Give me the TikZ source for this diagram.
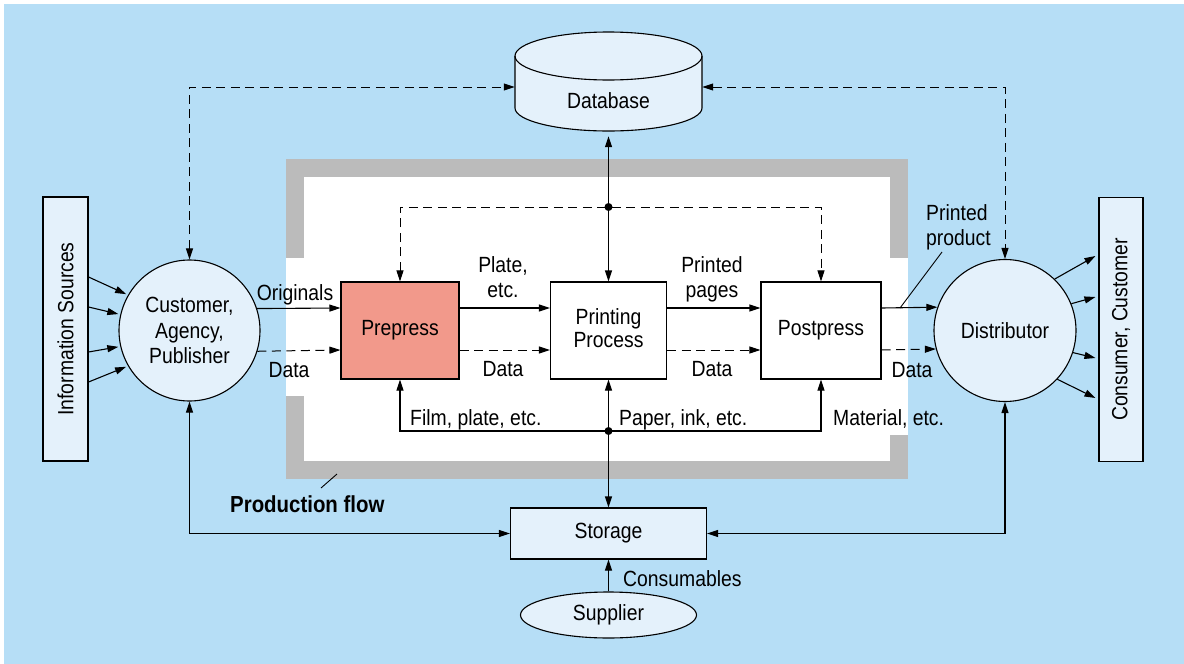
\documentclass[tikz,border=0pt]{standalone}
\usepackage{fontspec}
\setmainfont{Liberation Sans}[FakeStretch=0.88]
\usetikzlibrary{arrows.meta,calc,shapes.geometric}
\definecolor{bgblue}{RGB}{182,222,246}
\definecolor{paleblue}{RGB}{228,241,251}
\definecolor{framegray}{RGB}{187,187,187}
\definecolor{salmon}{RGB}{242,153,139}
\begin{document}
\begin{tikzpicture}[x=1pt,y=-1pt,
  every node/.style={font=\fontsize{22}{25}\selectfont},
  >={Triangle[length=11pt,width=7pt]},
  conn/.style={line width=1.1pt},
  dsh/.style={line width=1pt, dash pattern=on 9pt off 5.5pt},
  box/.style={draw, line width=1.1pt, inner sep=0, align=center},
  procbox/.style={box, fill=white, minimum width=118, minimum height=97},
  sidebox/.style={box, fill=paleblue, minimum width=45, minimum height=264},
  roundnode/.style={box, circle, fill=paleblue, minimum size=141},
  lbl/.style={inner sep=0},
  leader/.style={line width=0.9pt},
]
\useasboundingbox (0,0) rectangle (1184,664);
% background and production frame
\fill[bgblue] (4,4) rectangle (1184,664);
\fill[framegray] (286,159) rectangle (908,479);
\fill[white] (304,177) rectangle (890,461);
\fill[white] (286,258) rectangle (304,396);
\fill[white] (890,258) rectangle (908,435);

% database cylinder
\filldraw[fill=paleblue, line width=1.1pt] (515,56) -- (515,108)
  arc[start angle=180,end angle=360,x radius=93.5pt,y radius=23pt] -- (702,56)
  arc[start angle=0,end angle=180,x radius=93.5pt,y radius=24pt] -- cycle;
\draw[line width=1.1pt] (515,56) arc[start angle=180,end angle=360,x radius=93.5pt,y radius=24pt];
\node[inner sep=0, minimum width=187, minimum height=88] (db) at (608.5,87) {};
\node (dblabel) at (608.5,101) {Database};

% main nodes
\node[sidebox] (info) at (65.5,329) {\rotatebox{90}{Information Sources}};
\node[sidebox, minimum width=44] (cons) at (1121,329.5) {\rotatebox{90}{Consumer, Customer}};
\node[roundnode, font=\fontsize{22}{25.5}\selectfont] (cust) at (189.5,330.5) {Customer,\\Agency,\\Publisher};
\node[roundnode, minimum size=142] (dist) at (1005,330.5) {Distributor};
\node[procbox, fill=salmon] (prep) at (400,330.5) {Prepress};
\node[procbox, minimum width=116, font=\fontsize{22}{23.5}\selectfont] (print) at (608.5,330.5) {Printing\\Process\vphantom{g}};
\node[procbox, minimum width=120] (post) at (821,330.5) {Postpress};
\node[box, fill=paleblue, minimum width=196, minimum height=51] (store) at (608.5,533.5) {Storage};
\node[box, ellipse, fill=paleblue, minimum width=176, minimum height=46] (sup) at (608.5,615) {Supplier};

\coordinate (rowA) at (0,308);
\coordinate (rowB) at (0,350);
\coordinate (jt) at (608.5,207);
\coordinate (jb) at (608.5,431);

% production line
\draw[conn,->] (cust.18.6) -- (prep.west |- rowA);
\draw[dsh,->] (cust.343.9) -- (prep.west |- rowB);
\draw[conn,->] (prep.east |- rowA) -- (print.west |- rowA);
\draw[dsh,->] (prep.east |- rowB) -- (print.west |- rowB);
\draw[conn,->] (print.east |- rowA) -- (post.west |- rowA);
\draw[dsh,->] (print.east |- rowB) -- (post.west |- rowB);
\draw[conn,->] (post.east |- rowA) -- (dist.161.5);
\draw[dsh,->] (post.east |- rowB) -- (dist.195.9);

% sources and consumers
\foreach \dy/\a in {-52/150, -22/167, 23/193, 53/210}
  \draw[conn,->,shorten >=2pt] ($(info.east)+(0,\dy)$) -- (cust.\a);
\foreach \a/\dy in {46/-73.5, 22/-32.5, 342.5/28.5, 317/68.5}
  \draw[conn,->] (dist.\a) -- ($(cons.west)+(-3,\dy)$);

% database links
\draw[dsh,<->] (cust.north) |- (db.west);
\draw[dsh,<->] (db.east) -| (dist.north);
\draw[conn,<->,shorten <=5pt] (db.south) -- (print.north);
\draw[dsh,<->] (prep.north) -- (prep.north |- jt) -- (post.north |- jt) -- (post.north);
\fill (jt) circle[radius=4pt];

% storage links
\draw[conn,<->] (prep.south) -- (prep.south |- jb) -- (post.south |- jb) -- (post.south);
\draw[conn,->] (jb) -- (print.south);
\draw[conn,->] (jb) -- (store.north);
\fill (jb) circle[radius=4pt];
\draw[conn,<->] (cust.south) |- (store.west);
\draw[conn,<->] (dist.south) |- (store.east);
\draw[conn,->] (sup.north) -- (store.south);

% labels
\node[lbl, anchor=base] (lorig) at (295,300) {Originals};
\node[lbl, anchor=base] (ldata1) at (289,377) {Data};
\node[lbl, align=center] (lplate) at (503,277.5) {Plate,\\etc.};
\node[lbl, anchor=base] (ldata2) at (503,376) {Data};
\node[lbl, align=center] (lpages) at (712,279.5) {Printed\\pages};
\node[lbl, anchor=base] (ldata3) at (712,376) {Data};
\node[lbl, anchor=base] (ldata4) at (912,377) {Data};
\node[lbl, align=left, anchor=west] (lprod) at (926,227.5) {Printed\\product};
\node[lbl, anchor=base west] (lfilm) at (410,425) {Film, plate, etc.};
\node[lbl, anchor=base west] (lpaper) at (619,425) {Paper, ink, etc.};
\node[lbl, anchor=base west] (lmat) at (833,425) {Material, etc.};
\node[lbl, anchor=base west] (lcons) at (623,586) {Consumables};
\node[lbl, anchor=base west, font=\fontsize{23.2}{26}\selectfont\bfseries] (lflow) at (230,512) {Production flow};

% leader lines
\coordinate (pp1) at (942,252);
\coordinate (pp2) at (900,308);
\draw[leader] (pp1) -- (pp2);
\coordinate (pf1) at (321,488);
\coordinate (pf2) at (337,474);
\draw[leader] (pf1) -- (pf2);
\end{tikzpicture}
\end{document}
